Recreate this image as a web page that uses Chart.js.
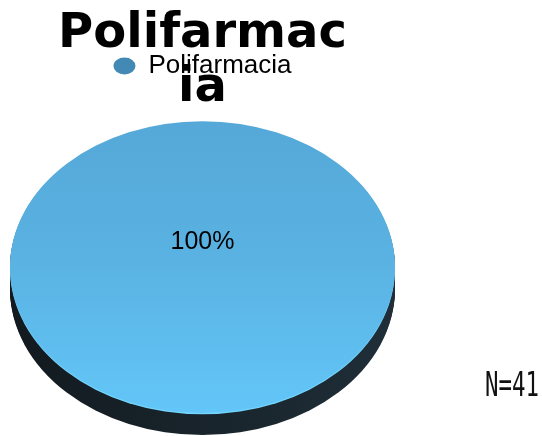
<!DOCTYPE html>
<html>
<head>
<meta charset="utf-8">
<script src="https://cdn.jsdelivr.net/npm/chart.js@4"></script>
<style>
    html, body { margin: 0; padding: 0; background: #fff; }
    #wrap { position: relative; width: 542px; height: 436px; }
</style>
</head>
<body>
<div id="wrap"><canvas id="pieChart" width="542" height="436"></canvas></div>
<script>
// Chart data
const titleLines = ['Polifarmac', 'ia'];
const categories = ['Polifarmacia'];
const counts = [41];
const sampleLabel = 'N=' + counts.reduce((a, b) => a + b, 0);

// Look of the fake 3D pie
const TILT = 0.758;      // ry / rx of the top face
const DEPTH = 0.114;     // side height / rx
const LEGEND_COLOR = '#4289b6';

// Ellipse that the round pie gets squashed into (fills the chart area)
function ellipseOf(chart) {
    const area = chart.chartArea;
    const rx = (area.right - area.left) / 2;
    const ry = rx * TILT;
    const depth = rx * DEPTH;
    return { cx: (area.left + area.right) / 2, cy: area.bottom - depth - ry, rx, ry, depth };
}

function squash(ctx, e, el) {
    ctx.translate(e.cx, e.cy);
    ctx.scale(e.rx / el.outerRadius, e.ry / el.outerRadius);
    ctx.translate(-el.x, -el.y);
}

function slicePath(ctx, el) {
    ctx.beginPath();
    if (el.endAngle - el.startAngle < Math.PI * 2 - 1e-6) {
        ctx.moveTo(el.x, el.y);
    }
    ctx.arc(el.x, el.y, el.outerRadius, el.startAngle, el.endAngle);
    ctx.closePath();
}

const pie3d = {
    id: 'pie3d',
    beforeDatasetsDraw(chart) {
        const ctx = chart.ctx;
        const e = ellipseOf(chart);
        const arcs = chart.getDatasetMeta(0).data;

        // Dark side wall, stacked copies of each slice
        arcs.forEach(el => {
            for (let d = e.depth; d > 0; d -= 1) {
                ctx.save();
                ctx.translate(0, d);
                squash(ctx, e, el);
                const g = ctx.createLinearGradient(el.x - el.outerRadius, 0, el.x + el.outerRadius, 0);
                g.addColorStop(0, '#121a1f');
                g.addColorStop(1, '#1f2e38');
                ctx.fillStyle = g;
                slicePath(ctx, el);
                ctx.fill();
                ctx.restore();
            }
        });

        // Light rim on the lower edge of the top face
        arcs.forEach(el => {
            ctx.save();
            ctx.translate(0, 1.2);
            squash(ctx, e, el);
            ctx.fillStyle = '#74d6ff';
            slicePath(ctx, el);
            ctx.fill();
            ctx.restore();
        });

        // Squash the top face that Chart.js draws next
        ctx.save();
        if (arcs.length) squash(ctx, e, arcs[0]);
    },
    afterDatasetsDraw(chart) {
        const ctx = chart.ctx;
        ctx.restore();

        // Percent label
        const e = ellipseOf(chart);
        const total = counts.reduce((a, b) => a + b, 0);
        ctx.save();
        ctx.fillStyle = '#000';
        ctx.font = '25px "Liberation Sans", Arial, sans-serif';
        ctx.textAlign = 'center';
        ctx.textBaseline = 'middle';
        counts.forEach(v => {
            ctx.fillText(Math.round(v / total * 100) + '%', e.cx, e.cy - e.ry * 0.17);
        });
        ctx.restore();
    },
    afterDraw(chart) {
        // Sample size note, narrow monospace
        const ctx = chart.ctx;
        ctx.save();
        ctx.fillStyle = '#111';
        ctx.font = '33px "DejaVu Sans Mono", monospace';
        ctx.textBaseline = 'alphabetic';
        ctx.translate(chart.width - 57, 396);
        ctx.scale(0.68, 1);
        ctx.fillText(sampleLabel, 0, 0);
        ctx.restore();
    }
};

function topFace(context) {
    const chart = context.chart;
    const area = chart.chartArea;
    if (!area) return '#5bb4e4';
    const w = area.right - area.left;
    const h = area.bottom - area.top;
    const r = Math.min(w, h) / 2;
    const cy = area.top + h / 2;
    const g = chart.ctx.createLinearGradient(0, cy - r, 0, cy + r);
    g.addColorStop(0, '#55a8d7');
    g.addColorStop(0.5, '#5ab3e3');
    g.addColorStop(1, '#63c6f8');
    return g;
}

const ctx = document.getElementById('pieChart').getContext('2d');
new Chart(ctx, {
    type: 'pie',
    data: {
        labels: categories,
        datasets: [{
            data: counts,
            backgroundColor: topFace,
            borderWidth: 0
        }]
    },
    options: {
        responsive: false,
        animation: false,
        layout: { padding: { left: 10, right: 147, top: 0, bottom: 1 } },
        plugins: {
            title: {
                display: true,
                text: titleLines,
                color: '#000',
                font: { family: 'DejaVu Sans', size: 48, weight: 'bold', lineHeight: 1.125 },
                padding: { top: 8, bottom: -73 }
            },
            legend: {
                display: true,
                position: 'top',
                labels: {
                    color: '#000',
                    font: { family: 'Liberation Sans', size: 26 },
                    usePointStyle: true,
                    pointStyle: 'circle',
                    boxHeight: 12,
                    pointStyleWidth: 22,
                    padding: 10,
                    generateLabels(chart) {
                        const base = Chart.overrides.pie.plugins.legend.labels.generateLabels(chart);
                        return base.map(item => ({ ...item, fillStyle: LEGEND_COLOR, strokeStyle: LEGEND_COLOR, lineWidth: 0 }));
                    }
                }
            },
            tooltip: { enabled: false }
        }
    },
    plugins: [pie3d]
});
</script>
</body>
</html>
